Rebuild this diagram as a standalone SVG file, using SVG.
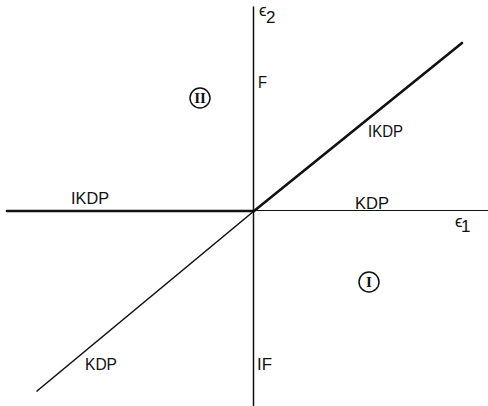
<svg xmlns="http://www.w3.org/2000/svg" width="488" height="406" viewBox="0 0 488 406">
<style>
.lbl{font-family:"Liberation Sans","DejaVu Sans",sans-serif;font-size:17px;fill:#111}
.ax{stroke:#111;fill:none;stroke-linecap:round}
.circ{fill:none;stroke:#111;stroke-width:1.5}
.rom{font-family:"Liberation Serif","DejaVu Serif",serif;font-size:15px;fill:#111;font-weight:bold}
</style>
<rect width="488" height="406" fill="#fff"/>
<g id="connectors">
<line class="ax" x1="253.5" y1="7" x2="253.5" y2="406" stroke-width="1.5"/>
<line class="ax" x1="7" y1="211" x2="254" y2="211" stroke-width="2.6"/>
<line class="ax" x1="254" y1="210.5" x2="488" y2="210.5" stroke-width="1.2"/>
<line class="ax" x1="254" y1="211" x2="462" y2="43" stroke-width="2.6"/>
<line class="ax" x1="254" y1="211" x2="37" y2="391" stroke-width="1.6"/>
</g>
<g id="axis-e2">
<text class="lbl" x="259" y="16" font-size="12">ϵ</text>
<text class="lbl" x="266" y="23" font-size="15">2</text>
</g>
<g id="axis-e1">
<text class="lbl" x="455" y="227" font-size="11">ϵ</text>
<text class="lbl" x="461" y="232" font-size="12">1</text>
</g>
<g id="label-F"><text class="lbl" x="258" y="88" textLength="9" lengthAdjust="spacingAndGlyphs">F</text></g>
<g id="label-IF"><text class="lbl" x="257" y="370" textLength="15" lengthAdjust="spacingAndGlyphs">IF</text></g>
<g id="label-IKDP-right"><text class="lbl" x="368" y="137" textLength="35" lengthAdjust="spacingAndGlyphs">IKDP</text></g>
<g id="label-IKDP-left"><text class="lbl" x="71" y="204" textLength="38" lengthAdjust="spacingAndGlyphs">IKDP</text></g>
<g id="label-KDP-right"><text class="lbl" x="355" y="209" textLength="34" lengthAdjust="spacingAndGlyphs">KDP</text></g>
<g id="label-KDP-left"><text class="lbl" x="85" y="370" textLength="32" lengthAdjust="spacingAndGlyphs">KDP</text></g>
<g id="region-II">
<circle class="circ" cx="200" cy="98" r="10"/>
<text class="rom" x="200" y="103" text-anchor="middle">II</text>
</g>
<g id="region-I">
<circle class="circ" cx="369" cy="282" r="10"/>
<text class="rom" x="369" y="287" text-anchor="middle">I</text>
</g>
</svg>
